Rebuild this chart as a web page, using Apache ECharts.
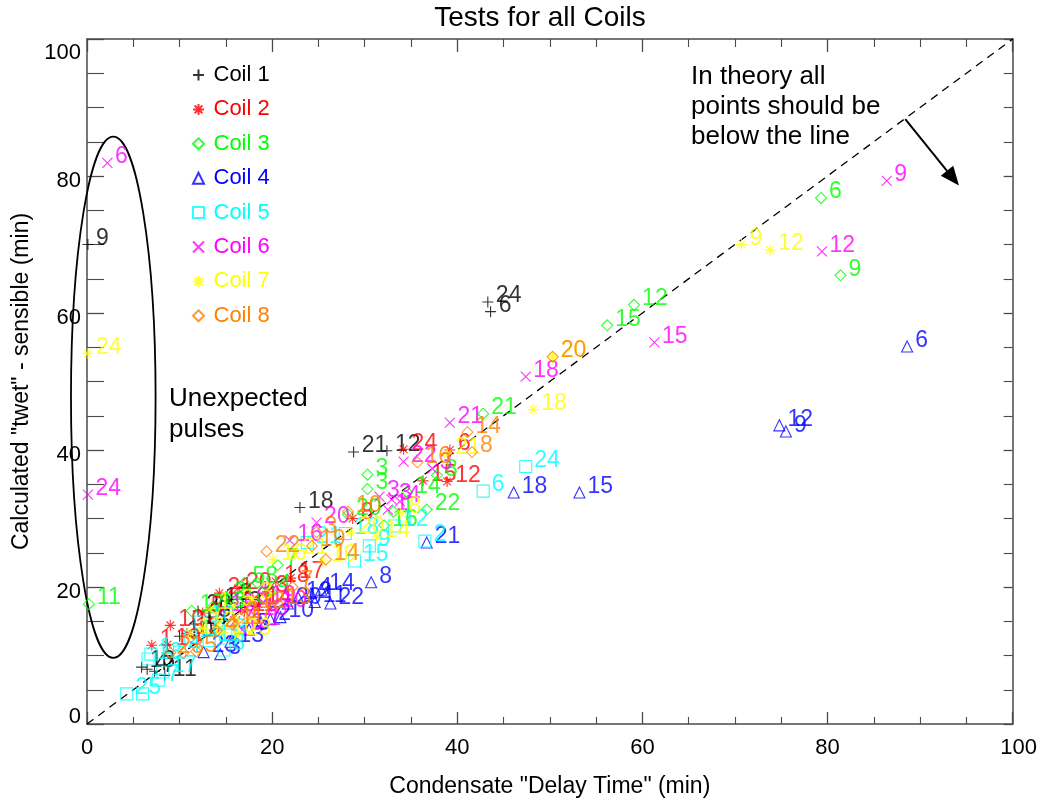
<!DOCTYPE html>
<html>
<head>
<meta charset="utf-8">
<title>Tests for all Coils</title>
<script src="https://cdn.jsdelivr.net/npm/echarts@6/dist/echarts.min.js"></script>
<style>
  html, body { margin: 0; padding: 0; background: #fff; }
  #chart { width: 1040px; height: 803px; }
</style>
</head>
<body>
<div id="chart"></div>
<script>
// Each point: [condensate delay time (min), calculated twet - sensible (min), test label]
const coil1 = [
  [0.1, 70.0, '9'], [43.3, 61.6, '24'], [43.6, 60.2, '6'], [28.8, 39.7, '21'],
  [32.4, 39.9, '12'], [23.0, 31.6, '18'], [12.0, 16.5, '20'], [11.6, 14.6, '14'],
  [10.0, 12.8, '10'], [8.4, 7.1, '11'], [7.3, 7.7, '7'], [6.5, 8.0, '4'],
  [5.9, 8.3, '13'], [14.0, 17.5, '17'], [15.6, 18.2, '2'], [13.3, 15.6, '5'],
  [16.6, 17.0, '3']
];
const coil2 = [
  [34.2, 40.1, '24'], [38.9, 35.4, '12'], [36.3, 35.5, '15'], [39.2, 40.0, '6'],
  [28.7, 30.0, '8'], [14.3, 19.1, '21'], [20.4, 20.8, '18'], [9.0, 14.4, '10'],
  [8.7, 11.6, '19'], [7.0, 11.5, '1'], [16.3, 19.8, '20'], [18.5, 17.5, '14'],
  [19.5, 19.3, '3'], [12.5, 16.2, '5'], [17.0, 16.5, '11'], [10.8, 13.2, '13'],
  [22.0, 21.3, '17']
];
const coil3 = [
  [0.2, 17.5, '11'], [81.4, 65.5, '9'], [79.3, 76.8, '6'], [59.1, 61.2, '12'],
  [56.2, 58.2, '15'], [42.8, 45.3, '21'], [30.3, 36.4, '3'], [30.3, 34.3, '3'],
  [34.6, 33.8, '14'], [37.8, 36.3, '8'], [36.7, 31.3, '22'], [28.2, 30.6, '20'],
  [32.1, 29.0, '16'], [11.3, 16.5, '17'], [17.0, 20.6, '5'], [18.4, 20.6, '8'],
  [20.6, 23.2, '7'], [15.0, 18.5, '2'], [19.8, 19.5, '4'], [13.5, 17.0, '13'],
  [16.0, 17.5, '10'], [33.1, 31.0, '1']
];
const coil4 = [
  [88.6, 55.1, '6'], [74.8, 43.6, '12'], [75.5, 42.7, '9'], [53.2, 33.8, '15'],
  [46.1, 33.8, '18'], [36.7, 26.5, '21'], [30.7, 20.7, '8'], [20.9, 15.6, '10'],
  [21.7, 17.6, '20'], [24.2, 19.1, '4'], [25.3, 19.6, '14'], [24.6, 17.8, '11'],
  [26.3, 17.6, '22'], [22.8, 18.5, '12'], [12.6, 10.5, '23'], [14.4, 10.2, '3'],
  [15.5, 12.0, '13'], [17.5, 13.8, '5'], [18.8, 14.8, '7'], [19.8, 15.3, '2']
];
const coil5 = [
  [47.4, 37.6, '24'], [42.8, 34.0, '6'], [36.5, 26.7, '2'], [33.2, 28.9, '12'],
  [28.9, 23.8, '15'], [27.9, 27.8, '18'], [23.8, 26.5, '21'], [30.5, 26.0, '9'],
  [4.3, 4.4, '25'], [6.0, 4.4, ''], [7.7, 6.4, '7'], [6.6, 9.5, '13'],
  [6.9, 10.2, '1'], [11.2, 12.7, '16'], [12.3, 14.9, '10'], [14.8, 10.8, '8'],
  [15.0, 13.0, '3'], [8.2, 7.6, '17'], [10.0, 10.5, '4'], [13.2, 12.2, '11']
];
const coil6 = [
  [2.2, 81.9, '6'], [0.1, 33.5, '24'], [86.4, 79.3, '9'], [79.4, 69.0, '12'],
  [61.3, 55.7, '15'], [47.4, 50.7, '18'], [39.2, 44.0, '21'], [34.2, 38.3, '22'],
  [37.3, 37.3, '3'], [31.6, 33.2, '3'], [32.9, 32.8, '3'], [32.5, 31.3, '1'],
  [33.8, 32.5, '4'], [24.8, 29.4, '20'], [21.9, 26.8, '16'], [14.7, 16.6, '16'],
  [18.1, 15.9, '13'], [16.8, 13.7, '6'], [19.0, 17.8, '19'], [17.5, 18.5, '4'],
  [20.2, 17.2, '10'], [16.0, 15.0, '7'], [18.8, 14.5, '1']
];
const coil7 = [
  [0.1, 54.1, '24'], [70.7, 70.0, '9'], [73.8, 69.2, '12'], [48.2, 45.9, '18'],
  [50.3, 53.6, '20'], [38.9, 39.4, '21'], [33.9, 30.8, '8'], [31.3, 27.3, '14'],
  [28.5, 28.0, '20'], [25.5, 23.8, '10'], [20.1, 24.0, '16'], [22.4, 24.9, '21'],
  [16.3, 13.0, '23'], [13.3, 16.8, '1'], [14.7, 13.4, '10'], [17.8, 18.3, '3'],
  [12.5, 14.0, '13'], [15.8, 17.3, '5'], [11.2, 13.2, '17']
];
const coil8 = [
  [50.3, 53.6, '20'], [41.1, 42.6, '14'], [41.6, 39.7, '8'], [35.7, 38.2, '16'],
  [28.2, 31.0, '10'], [24.8, 28.0, '3'], [19.4, 25.2, '22'], [24.3, 26.0, '19'],
  [25.8, 24.0, '14'], [20.6, 17.6, '13'], [22.2, 20.0, '7'], [9.0, 10.4, '2'],
  [10.4, 10.4, '3'], [11.8, 10.6, '5'], [16.5, 15.5, '17'], [15.7, 14.6, '11'],
  [14.0, 13.6, '4'], [17.8, 17.0, '12']
];

const coilNames = ['Coil 1', 'Coil 2', 'Coil 3', 'Coil 4', 'Coil 5', 'Coil 6', 'Coil 7', 'Coil 8'];
const coilData = [coil1, coil2, coil3, coil4, coil5, coil6, coil7, coil8];
const coilColors = ['#000000', '#ff0000', '#00ff00', '#0000ff', '#00ffff', '#ff00ff', '#ffff00', '#ff8000'];

// Reference line y = x, the arrow pointing below it, and the ellipse around the x = 0 outliers
const diagonal = [[0, 0], [100, 100]];
const arrowLine = [[88.4, 88.3, 94.2, 78.6]];              // from x, from y, tip x, tip y
const outlierEllipse = [[2.84, 47.7, 4.57, 38.05]];        // centre x, centre y, radius x, radius y

const xTicks = { min: 0, max: 100, interval: 20 };
const yTicks = { min: 0, max: 100, interval: 20 };

// Outline marker shapes drawn in a 10x10 box
const markers = [
  'path://M5,0L5,10M0,5L10,5',                                   // plus
  'path://M5,0L5,10M0,5L10,5M1.5,1.5L8.5,8.5M8.5,1.5L1.5,8.5',    // asterisk
  'path://M5,0L10,5L5,10L0,5Z',                                  // diamond
  'path://M5,0L10,10L0,10Z',                                     // triangle
  'path://M0,0L10,0L10,10L0,10Z',                                // square
  'path://M0,0L10,10M10,0L0,10',                                 // cross
  'path://M5,0L5,10M0,5L10,5M1.5,1.5L8.5,8.5M8.5,1.5L1.5,8.5',    // asterisk
  'path://M5,0L10,5L5,10L0,5Z'                                   // diamond
];
const markerSizes = [11, 11, 11, 11, 12, 10, 11, 11];

const FONT = '"Liberation Sans", Arial, Helvetica, sans-serif';
const AXIS_COLOR = '#4a4a4a';

const chart = echarts.init(document.getElementById('chart'), null, { renderer: 'canvas' });

const coilSeries = coilData.map((pts, i) => ({
  name: coilNames[i],
  type: 'scatter',
  xAxisIndex: 0,
  yAxisIndex: 0,
  data: pts,
  encode: { x: 0, y: 1 },
  symbol: markers[i],
  symbolSize: markerSizes[i],
  itemStyle: { color: 'rgba(0,0,0,0)', borderColor: coilColors[i], borderWidth: 1.1 },
  label: {
    show: true,
    position: 'right',
    distance: 2,
    offset: [0, -6],
    formatter: p => p.value[2],
    color: coilColors[i],
    fontFamily: FONT,
    fontSize: 23
  },
  emphasis: { disabled: true },
  z: 3 + i
}));

const option = {
  backgroundColor: '#ffffff',
  animation: false,
  textStyle: { fontFamily: FONT },
  grid: { left: 87, right: 26, top: 39, bottom: 78, containLabel: false },
  legend: {
    orient: 'vertical',
    left: 187,
    top: 58,
    itemWidth: 20,
    itemHeight: 11,
    itemGap: 10.4,
    symbolKeepAspect: true,
    selectedMode: false,
    textStyle: { fontSize: 22, lineHeight: 24, fontFamily: FONT },
    data: coilNames.map((n, i) => ({ name: n, textStyle: { color: coilColors[i] } }))
  },
  xAxis: [
    {
      type: 'value', position: 'bottom', min: xTicks.min, max: xTicks.max, interval: xTicks.interval,
      name: 'Condensate "Delay Time" (min)', nameLocation: 'middle', nameGap: 51,
      nameTextStyle: { fontSize: 23, color: '#000', fontFamily: FONT },
      axisLine: { show: true, onZero: false, lineStyle: { color: AXIS_COLOR, width: 1.5 } },
      axisTick: { show: true, inside: true, length: 12, lineStyle: { color: AXIS_COLOR, width: 1.3 } },
      minorTick: { show: true, splitNumber: 4, length: 7, lineStyle: { color: AXIS_COLOR, width: 1.1 } },
      splitLine: { show: false },
      axisLabel: {
        margin: 13, color: '#000', fontSize: 22, fontFamily: FONT,
        formatter: v => v === 100 ? '{r|100}' : '{n|' + v + '}',
        rich: {
          n: { fontSize: 22, fontFamily: FONT, color: '#000' },
          r: { fontSize: 22, fontFamily: FONT, color: '#000', padding: [0, 0, 0, 12] }
        }
      }
    },
    {
      type: 'value', position: 'top', min: xTicks.min, max: xTicks.max, interval: xTicks.interval,
      axisLine: { show: true, onZero: false, lineStyle: { color: AXIS_COLOR, width: 1.5 } },
      axisTick: { show: true, inside: true, length: 13, lineStyle: { color: AXIS_COLOR, width: 1.3 } },
      minorTick: { show: true, splitNumber: 4, length: 8, lineStyle: { color: AXIS_COLOR, width: 1.1 } },
      splitLine: { show: false },
      axisLabel: { show: false }
    }
  ],
  yAxis: [
    {
      type: 'value', position: 'left', min: yTicks.min, max: yTicks.max, interval: yTicks.interval,
      name: 'Calculated "twet" - sensible (min)', nameLocation: 'middle', nameGap: 46, nameRotate: 90,
      nameTextStyle: { fontSize: 23, color: '#000', fontFamily: FONT },
      axisLine: { show: true, onZero: false, lineStyle: { color: AXIS_COLOR, width: 1.5 } },
      axisTick: { show: true, inside: true, length: 17, lineStyle: { color: AXIS_COLOR, width: 1.3 } },
      minorTick: { show: true, splitNumber: 4, length: 17, lineStyle: { color: AXIS_COLOR, width: 1.1 } },
      splitLine: { show: false },
      axisLabel: {
        margin: 6, color: '#000', fontSize: 22, fontFamily: FONT,
        formatter: v => v === 100 ? '{t|100}' : (v === 0 ? '{b|0}' : '{m|' + v + '}'),
        rich: {
          t: { fontSize: 22, fontFamily: FONT, color: '#000', padding: [27, 0, 0, 0] },
          m: { fontSize: 22, fontFamily: FONT, color: '#000', padding: [10, 0, 0, 0] },
          b: { fontSize: 22, fontFamily: FONT, color: '#000', padding: [0, 0, 14, 0] }
        }
      }
    },
    {
      type: 'value', position: 'right', min: yTicks.min, max: yTicks.max, interval: yTicks.interval,
      axisLine: { show: true, onZero: false, lineStyle: { color: AXIS_COLOR, width: 1.5 } },
      axisTick: { show: true, inside: true, length: 9, lineStyle: { color: AXIS_COLOR, width: 1.3 } },
      minorTick: { show: true, splitNumber: 4, length: 9, lineStyle: { color: AXIS_COLOR, width: 1.1 } },
      splitLine: { show: false },
      axisLabel: { show: false }
    }
  ],
  graphic: [
    {
      type: 'text', x: 540, y: 18, silent: true,
      style: { text: 'Tests for all Coils', fontSize: 28, fontFamily: FONT, fill: '#000',
               align: 'center', verticalAlign: 'middle' }
    },
    {
      type: 'text', x: 691, y: 62, silent: true,
      style: { text: 'In theory all\npoints should be\nbelow the line', fontSize: 26, lineHeight: 30,
               fontFamily: FONT, fill: '#000', align: 'left', verticalAlign: 'top' }
    },
    {
      type: 'text', x: 169, y: 383, silent: true,
      style: { text: 'Unexpected\npulses', fontSize: 26, lineHeight: 31,
               fontFamily: FONT, fill: '#000', align: 'left', verticalAlign: 'top' }
    }
  ],
  series: [
    {
      name: 'y = x',
      type: 'line',
      data: diagonal,
      symbol: 'none',
      silent: true,
      lineStyle: { color: '#000', width: 1.3, type: [8, 6] },
      z: 2
    },
    {
      name: 'arrow',
      type: 'custom',
      data: arrowLine,
      silent: true,
      clip: false,
      z: 2,
      renderItem: (params, api) => {
        const a = api.coord([api.value(0), api.value(1)]);
        const b = api.coord([api.value(2), api.value(3)]);
        const dx = b[0] - a[0], dy = b[1] - a[1];
        const len = Math.sqrt(dx * dx + dy * dy);
        const ux = dx / len, uy = dy / len;
        const headLen = 19, halfW = 8;
        const bx = b[0] - ux * headLen, by = b[1] - uy * headLen;
        return {
          type: 'group',
          children: [
            { type: 'line', shape: { x1: a[0], y1: a[1], x2: bx, y2: by },
              style: { stroke: '#000', lineWidth: 2 } },
            { type: 'polygon',
              shape: { points: [[b[0], b[1]], [bx - uy * halfW, by + ux * halfW], [bx + uy * halfW, by - ux * halfW]] },
              style: { fill: '#000' } }
          ]
        };
      }
    },
    {
      name: 'outliers',
      type: 'custom',
      data: outlierEllipse,
      silent: true,
      clip: false,
      z: 2,
      renderItem: (params, api) => {
        const c = api.coord([api.value(0), api.value(1)]);
        const s = api.size([api.value(2), api.value(3)]);
        return {
          type: 'ellipse',
          shape: { cx: c[0], cy: c[1], rx: s[0], ry: s[1] },
          style: { fill: 'none', stroke: '#000', lineWidth: 1.8 }
        };
      }
    },
    ...coilSeries
  ]
};

chart.setOption(option);
</script>
</body>
</html>
